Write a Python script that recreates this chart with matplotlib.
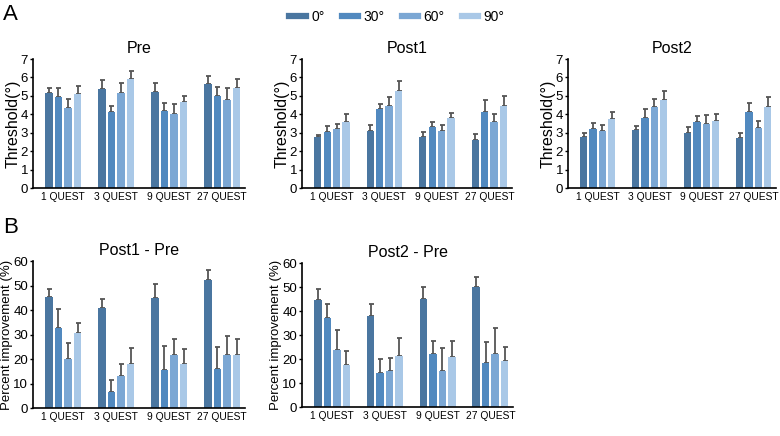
import numpy as np
import matplotlib
matplotlib.use('Agg')
import matplotlib.pyplot as plt
from matplotlib.lines import Line2D

plt.rcParams['font.family'] = ['Liberation Sans', 'DejaVu Sans']

groups = ['1 QUEST', '3 QUEST', '9 QUEST', '27 QUEST']
angles = ['0°', '30°', '60°', '90°']
colors = ['#4a76a0', '#5189bf', '#7ba7d4', '#a9c8e7']

# threshold means (rows = groups, cols = angles) and top of error bar
pre_mean = [[5.15, 4.92, 4.32, 5.12], [5.35, 4.15, 5.18, 5.92],
            [5.22, 4.18, 4.00, 4.65], [5.62, 4.98, 4.80, 5.40]]
pre_top = [[5.45, 5.40, 4.85, 5.52], [5.88, 4.45, 5.68, 6.35],
           [5.72, 4.62, 4.57, 5.00], [6.07, 5.48, 5.42, 5.90]]
post1_mean = [[2.75, 3.05, 3.22, 3.60], [3.10, 4.28, 4.47, 5.25],
              [2.75, 3.33, 3.12, 3.78], [2.62, 4.13, 3.57, 4.43]]
post1_top = [[2.88, 3.35, 3.45, 4.00], [3.42, 4.58, 4.92, 5.80],
             [3.03, 3.57, 3.42, 4.05], [2.92, 4.75, 4.02, 4.98]]
post2_mean = [[2.77, 3.20, 3.08, 3.73], [3.15, 3.82, 4.38, 4.78],
              [2.97, 3.58, 3.50, 3.65], [2.73, 4.12, 3.28, 4.38]]
post2_top = [[2.97, 3.53, 3.40, 4.15], [3.38, 4.30, 4.82, 5.28],
             [3.33, 3.90, 3.95, 4.00], [3.00, 4.62, 3.65, 4.95]]

# percent improvement
imp1_mean = [[45.2, 32.5, 20.0, 30.5], [40.7, 6.5, 13.2, 18.0],
             [44.7, 15.5, 21.7, 18.0], [52.3, 16.0, 21.7, 21.8]]
imp1_top = [[48.5, 40.5, 26.5, 34.5], [44.5, 11.5, 18.0, 24.5],
            [50.5, 25.5, 28.0, 24.2], [56.5, 24.8, 29.2, 28.0]]
imp2_mean = [[44.5, 37.2, 23.8, 17.5], [38.0, 14.0, 14.8, 21.2],
             [45.0, 22.2, 14.8, 20.8], [50.0, 18.5, 22.2, 19.0]]
imp2_top = [[49.3, 42.8, 32.2, 23.5], [42.8, 19.8, 20.3, 28.7],
            [50.2, 27.6, 24.5, 27.3], [54.3, 27.0, 33.0, 25.2]]


def draw(ax, mean, top, title, ylim, yticks, ylabel, ylabel_size):
    mean = np.array(mean)
    top = np.array(top)
    x = np.arange(len(groups))
    step = 0.18
    width = 0.14
    for j in range(len(angles)):
        pos = x + (j - 1.5) * step
        ax.bar(pos, mean[:, j], width, color=colors[j], zorder=2)
        err = top[:, j] - mean[:, j]
        ax.errorbar(pos, mean[:, j], yerr=[np.zeros_like(err), err], fmt='none',
                    ecolor='#555555', elinewidth=1.3, capsize=1.8, capthick=1.3, zorder=1)
    ax.set_xlim(-0.57, 3.43)
    ax.set_ylim(*ylim)
    ax.set_yticks(yticks)
    ax.set_xticks(x)
    ax.set_xticklabels(groups, fontsize=7.4)
    ax.tick_params(axis='x', length=0, pad=3)
    ax.tick_params(axis='y', labelsize=9.5, length=2.5, width=1, pad=1)
    ax.spines['top'].set_visible(False)
    ax.spines['right'].set_visible(False)
    ax.spines['left'].set_linewidth(1.2)
    ax.spines['bottom'].set_linewidth(1.2)
    ax.set_title(title, fontsize=11.5, pad=4)
    ax.set_ylabel(ylabel, fontsize=ylabel_size, labelpad=0)


fig = plt.figure(figsize=(7.8, 4.36), dpi=100)
W, H = 780.0, 436.0

def add_axes(x0, x1, ytop, ybot):
    return fig.add_axes([x0 / W, 1 - ybot / H, (x1 - x0) / W, (ybot - ytop) / H])

ax_pre = add_axes(33, 245, 59, 188)
ax_p1 = add_axes(302, 512, 59, 188)
ax_p2 = add_axes(568, 776, 59, 188)
ax_i1 = add_axes(33, 245, 261, 408)
ax_i2 = add_axes(302, 513, 263, 407)

for ax, m, t, ttl in [(ax_pre, pre_mean, pre_top, 'Pre'),
                      (ax_p1, post1_mean, post1_top, 'Post1'),
                      (ax_p2, post2_mean, post2_top, 'Post2')]:
    draw(ax, m, t, ttl, (0, 7), range(0, 8), 'Threshold(°)', 11.5)

draw(ax_i1, imp1_mean, imp1_top, 'Post1 - Pre', (0, 60), range(0, 70, 10),
     'Percent improvement (%)', 9.5)
draw(ax_i2, imp2_mean, imp2_top, 'Post2 - Pre', (0, 60), range(0, 70, 10),
     'Percent improvement (%)', 9.5)

# legend
handles = [Line2D([0], [0], color=c, lw=4.5) for c in colors]
fig.legend(handles, angles, loc='center', bbox_to_anchor=(397 / W, 1 - 17 / H),
           ncol=4, frameon=False, fontsize=10, handlelength=1.2,
           columnspacing=1.2, handletextpad=0.4)

fig.text(3 / W, 1 - 14 / H, 'A', fontsize=16, va='center', ha='left')
fig.text(3 / W, 1 - 227 / H, 'B', fontsize=16, va='center', ha='left')

fig.savefig('out.png', dpi=100)
